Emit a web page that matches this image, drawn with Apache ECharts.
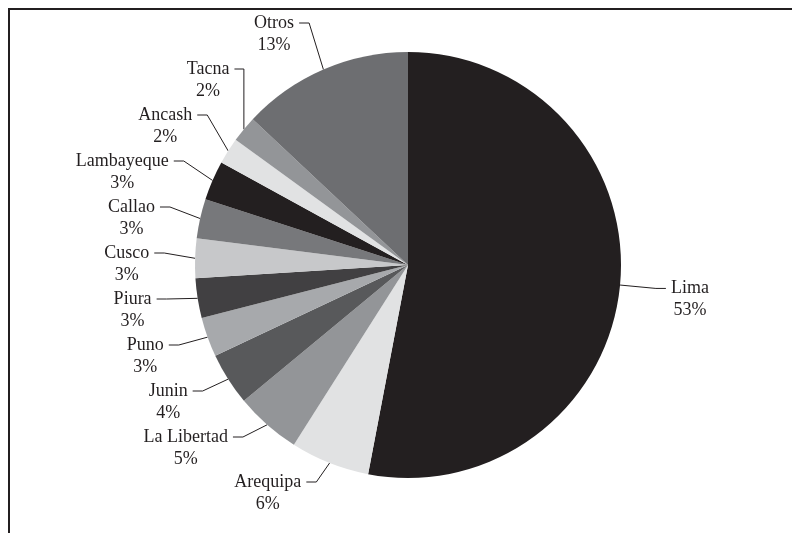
<!DOCTYPE html>
<html>
<head>
<meta charset="utf-8">
<script src="https://cdn.jsdelivr.net/npm/echarts@6/dist/echarts.min.js"></script>
<style>
  html, body { margin: 0; padding: 0; background: #fff; }
  #main { width: 792px; height: 533px; }
</style>
</head>
<body>
<div id="main"></div>
<script>
// regiones y porcentajes, en sentido horario desde las 12
var regiones = ['Lima', 'Arequipa', 'La Libertad', 'Junin', 'Puno', 'Piura',
                'Cusco', 'Callao', 'Lambayeque', 'Ancash', 'Tacna', 'Otros'];
var porcentajes = [53, 6, 5, 4, 3, 3, 3, 3, 3, 2, 2, 13];
var grises = ['#231f20', '#e1e2e3', '#939598', '#58595b', '#a7a9ac', '#414042',
              '#c7c8ca', '#77787b', '#231f20', '#e1e2e3', '#939598', '#6d6e71'];

var datos = regiones.map(function (r, i) {
    return { name: r, value: porcentajes[i], itemStyle: { color: grises[i] } };
});

var myChart = echarts.init(document.getElementById('main'));

option = {
    animation: false,
    backgroundColor: '#fff',
    graphic: [
        { type: 'line', shape: { x1: 8, y1: 9, x2: 792, y2: 9 }, style: { stroke: '#231f20', lineWidth: 2 } },
        { type: 'line', shape: { x1: 9, y1: 8, x2: 9, y2: 533 }, style: { stroke: '#231f20', lineWidth: 2 } }
    ],
    series: [{
        type: 'pie',
        top: 0,
        bottom: 28,
        center: [408, 265],
        radius: 213,
        startAngle: 90,
        clockwise: true,
        data: datos,
        itemStyle: { borderWidth: 0 },
        label: {
            show: true,
            position: 'outside',
            fontFamily: 'Liberation Serif',
            fontSize: 18,
            color: '#231f20',
            lineHeight: 22,
            formatter: function (p) {
                return '{c|' + p.name + '}\n{c|' + p.value + '%}';
            },
            rich: {
                c: { align: 'center', fontFamily: 'Liberation Serif', fontSize: 18, color: '#231f20', lineHeight: 22 }
            }
        },
        // la linea guia apunta al nombre, no al centro del bloque
        labelLayout: function () {
            return { dy: 11 };
        },
        labelLine: {
            show: true,
            length: 36,
            length2: 10,
            lineStyle: { color: '#231f20', width: 1 }
        }
    }]
};

myChart.setOption(option);
</script>
</body>
</html>
